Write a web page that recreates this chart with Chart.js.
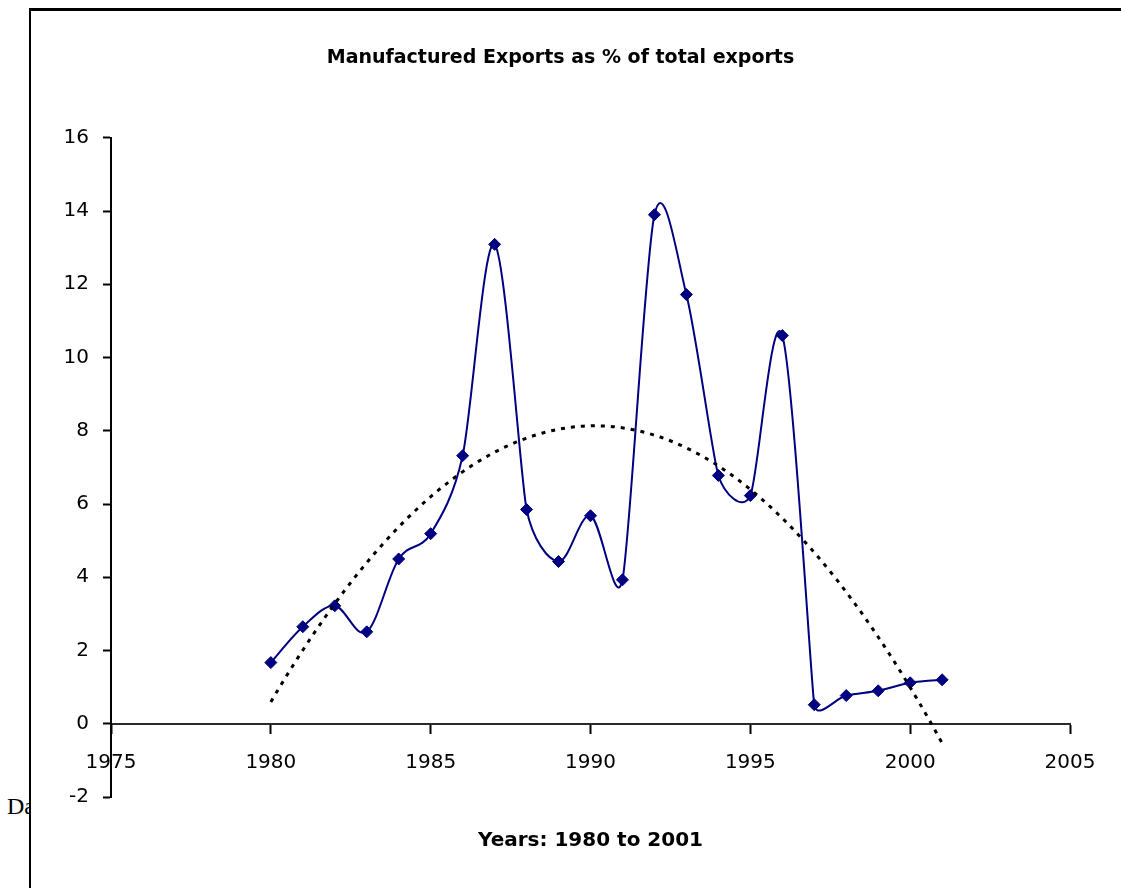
<!DOCTYPE html>
<html>
<head>
<meta charset="utf-8">
<script src="https://cdn.jsdelivr.net/npm/chart.js@4.4.1/dist/chart.umd.min.js"></script>
<style>
  html, body { margin: 0; padding: 0; background: #fff; }
  body { width: 1121px; height: 888px; position: relative; overflow: hidden; }
  #note { position: absolute; left: 7px; top: 794px; font: 24px "Liberation Serif", "Times New Roman", serif; line-height: 24px; color: #000; white-space: nowrap; }
  #frame { position: absolute; left: 29px; top: 8px; right: 0; bottom: 0; background: #fff; border-left: 2px solid #000; border-top: 3px solid #000; }
  #chart { position: absolute; left: 0; top: 0; }
</style>
</head>
<body>
<div id="note">Da</div>
<div id="frame"></div>
<canvas id="chart" width="1121" height="888"></canvas>
<script>
// Manufactured exports as a share of total exports, 1980-2001 (%)
const years = [1980, 1981, 1982, 1983, 1984, 1985, 1986, 1987, 1988, 1989, 1990,
               1991, 1992, 1993, 1994, 1995, 1996, 1997, 1998, 1999, 2000, 2001];
const shares = [1.67, 2.65, 3.22, 2.51, 4.50, 5.19, 7.32, 13.09, 5.85, 4.43, 5.68,
                3.93, 13.90, 11.72, 6.78, 6.23, 10.60, 0.52, 0.77, 0.90, 1.12, 1.20];
const xTickValues = [1975, 1980, 1985, 1990, 1995, 2000, 2005];
const yTickValues = [-2, 0, 2, 4, 6, 8, 10, 12, 14, 16];

const chartTitle = 'Manufactured Exports as % of total exports';
const xAxisTitle = 'Years: 1980 to 2001';

// Least-squares fit of a second-order polynomial (x centred on the mean year)
function fitQuadratic(xs, ys) {
  const n = xs.length;
  const mx = xs.reduce((s, v) => s + v, 0) / n;
  let s1 = 0, s2 = 0, s3 = 0, s4 = 0, sy = 0, sxy = 0, sx2y = 0;
  for (let i = 0; i < n; i++) {
    const t = xs[i] - mx, y = ys[i];
    s1 += t; s2 += t * t; s3 += t * t * t; s4 += t * t * t * t;
    sy += y; sxy += t * y; sx2y += t * t * y;
  }
  // Gaussian elimination on the 3x3 normal equations
  const M = [[n, s1, s2, sy], [s1, s2, s3, sxy], [s2, s3, s4, sx2y]];
  for (let i = 0; i < 3; i++) {
    for (let k = i + 1; k < 3; k++) {
      const f = M[k][i] / M[i][i];
      for (let j = i; j < 4; j++) M[k][j] -= f * M[i][j];
    }
  }
  const c = M[2][3] / M[2][2];
  const b = (M[1][3] - M[1][2] * c) / M[1][1];
  const a = (M[0][3] - M[0][1] * b - M[0][2] * c) / M[0][0];
  return x => { const t = x - mx; return a + b * t + c * t * t; };
}

const trend = fitQuadratic(years, shares);

// Spreadsheet-style smoothing: each control arm is 1/6 of the neighbour-to-neighbour
// vector, shortened so it never exceeds half of either adjacent segment
const smoothLinePlugin = {
  id: 'smoothLine',
  beforeDatasetsDraw(chart) {
    chart.getSortedVisibleDatasetMetas().forEach(meta => {
      const line = meta.dataset;
      if (!line) return;
      line.updateControlPoints(chart.chartArea, 'x');
      const pts = meta.data;
      const dist = (a, b) => Math.hypot(b.x - a.x, b.y - a.y);
      for (let i = 0; i < pts.length; i++) {
        const p = pts[i];
        const prev = pts[Math.max(i - 1, 0)];
        const next = pts[Math.min(i + 1, pts.length - 1)];
        const d01 = dist(prev, p), d12 = dist(p, next), d02 = dist(prev, next);
        let f = 1 / 6;
        if (d02 > 0) {
          if (i > 0) f = Math.min(f, 0.5 * d01 / d02);
          if (i < pts.length - 1) f = Math.min(f, 0.5 * d12 / d02);
        }
        const dx = (next.x - prev.x) * f, dy = (next.y - prev.y) * f;
        p.cp1x = p.x - dx; p.cp1y = p.y - dy;
        p.cp2x = p.x + dx; p.cp2y = p.y + dy;
      }
      line._pointsUpdated = true;
      line._path = undefined;
    });
  }
};

// Dotted polynomial trend line, drawn through the chart's own scales
const trendLinePlugin = {
  id: 'trendLine',
  afterDatasetsDraw(chart) {
    const { ctx, scales: { x, y } } = chart;
    const x0 = years[0], x1 = years[years.length - 1];
    const steps = 200;
    ctx.save();
    ctx.beginPath();
    for (let i = 0; i <= steps; i++) {
      const xv = x0 + (x1 - x0) * i / steps;
      const px = x.getPixelForValue(xv), py = y.getPixelForValue(trend(xv));
      if (i === 0) ctx.moveTo(px, py); else ctx.lineTo(px, py);
    }
    ctx.strokeStyle = '#000';
    ctx.lineWidth = 3;
    ctx.setLineDash([4, 6]);
    ctx.lineCap = 'butt';
    ctx.stroke();
    ctx.restore();
  }
};

const tickFont = { family: '"DejaVu Sans", sans-serif', size: 20 };

new Chart(document.getElementById('chart'), {
  type: 'line',
  data: {
    datasets: [{
      data: years.map((yr, i) => ({ x: yr, y: shares[i] })),
      borderColor: '#000080',
      backgroundColor: '#000080',
      borderWidth: 2,
      tension: 0.4,
      pointStyle: 'rectRot',
      pointRadius: 6,
      pointBorderWidth: 1,
      pointBorderColor: '#000080',
      pointBackgroundColor: '#000080',
      fill: false
    }]
  },
  options: {
    responsive: false,
    devicePixelRatio: 1,
    animation: false,
    layout: { padding: { left: 51, right: 51, top: 0, bottom: 0 } },
    plugins: {
      legend: { display: false },
      tooltip: { enabled: false },
      title: {
        display: true,
        text: chartTitle,
        color: '#000',
        font: { family: '"DejaVu Sans", sans-serif', size: 19, weight: 'bold' },
        padding: { top: 47, bottom: 68 }
      },
      subtitle: {
        display: true,
        position: 'bottom',
        fullSize: false,
        text: xAxisTitle,
        color: '#000',
        font: { family: '"DejaVu Sans", sans-serif', size: 20, weight: 'bold' },
        padding: { top: 32, bottom: 35 }
      }
    },
    scales: {
      x: {
        type: 'linear',
        position: { y: 0 },
        min: 1975,
        max: 2005,
        afterBuildTicks(scale) { scale.ticks = xTickValues.map(v => ({ value: v })); },
        ticks: {
          autoSkip: false,
          maxRotation: 0,
          color: '#000',
          font: tickFont,
          padding: 18,
          callback: v => String(v)
        },
        grid: { drawOnChartArea: false, drawTicks: true, tickLength: 9, tickWidth: 2, tickColor: '#000' },
        border: { display: true, color: '#2a2a2a', width: 2 }
      },
      y: {
        type: 'linear',
        position: 'left',
        min: -2,
        max: 16,
        afterBuildTicks(scale) { scale.ticks = yTickValues.map(v => ({ value: v })); },
        afterFit(scale) { scale.width = 60; },
        ticks: {
          color: '#000',
          font: tickFont,
          padding: 14,
          callback: v => String(v)
        },
        grid: { drawOnChartArea: false, drawTicks: true, tickLength: 8, tickWidth: 2, tickColor: '#000' },
        border: { display: true, color: '#000', width: 2 }
      }
    }
  },
  plugins: [smoothLinePlugin, trendLinePlugin]
});
</script>
</body>
</html>
